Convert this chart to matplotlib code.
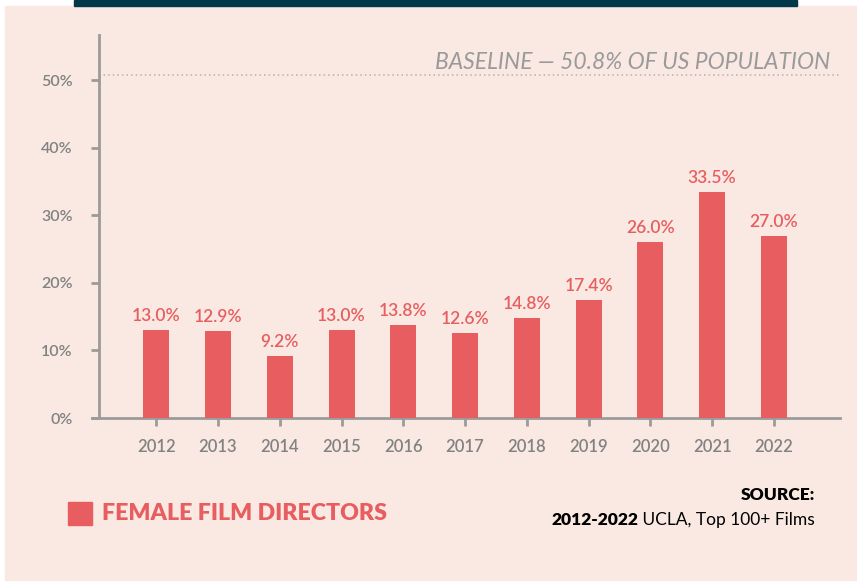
import matplotlib.pyplot as plt
from matplotlib.patches import Rectangle

# data
years = ["2012", "2013", "2014", "2015", "2016", "2017", "2018", "2019", "2020", "2021", "2022"]
pct = [13.0, 12.9, 9.2, 13.0, 13.8, 12.6, 14.8, 17.4, 26.0, 33.5, 27.0]
y_ticks = [0, 10, 20, 30, 40, 50]
baseline = 50.8

BG = "#f9e9e2"
RED = "#e85e60"
GREY = "#828282"
AXIS = "#9b9b9b"

plt.rcParams['font.family'] = ['Lato', 'DejaVu Sans']

W, H = 857, 582
fig = plt.figure(figsize=(W / 100, H / 100), dpi=100)
fig.patch.set_facecolor("white")

# pink panel + dark top bar
fig.patches.append(Rectangle((5 / W, 1 - 580 / H), 851 / W, 574 / H,
                             transform=fig.transFigure, color=BG, zorder=-10))
fig.patches.append(Rectangle((74 / W, 1 - 6 / H), 723 / W, 6 / H,
                             transform=fig.transFigure, color="#03384b", zorder=-10))

ax = fig.add_axes([92 / W, 1 - 418 / H, (840 - 92) / W, (418 - 35) / H])
ax.set_zorder(5)
ax.set_facecolor("none")

x = list(range(len(years)))
ax.bar(x, pct, width=0.42, color=RED, zorder=3)
for xi, v in zip(x, pct):
    ax.text(xi, v + 0.9, f"{v:.1f}%", ha='center', va='bottom',
            color=RED, fontsize=12.5, fontweight='semibold')

ax.set_xlim(-1.04, 11.07)
ax.set_ylim(0, 56.7)

for s in ['top', 'right']:
    ax.spines[s].set_visible(False)
ax.spines['left'].set_position(('data', -0.924))
ax.spines['left'].set_color(AXIS)
ax.spines['bottom'].set_color(AXIS)
ax.spines['left'].set_linewidth(2)
ax.spines['bottom'].set_linewidth(2)

ax.set_xticks(x)
ax.set_xticklabels(years, fontweight='semibold')
ax.set_yticks(y_ticks)
ax.set_yticklabels([f"{t}%" for t in y_ticks], fontweight='semibold')
ax.tick_params(axis='x', colors=AXIS, labelcolor=GREY, length=6, width=2,
               labelsize=12, pad=9)
ax.tick_params(axis='y', colors=AXIS, labelcolor=GREY, length=6, width=2,
               labelsize=11.5, pad=13)

# baseline
ax.plot([-0.924, 11.07], [baseline, baseline], color="#b5b0ad", lw=1.1,
        linestyle=(0, (1, 2)), zorder=2, clip_on=False)
ax.text(10.91, 52.7, "BASELINE \u2014 50.8% OF US POPULATION", ha='right',
        va='center', color="#9a9a9a", fontsize=16.5, style='italic',
        fontweight='normal')

# legend
fig.patches.append(Rectangle((68 / W, 1 - 525 / H), 24 / W, 23 / H,
                             transform=fig.transFigure, color=RED, zorder=2))
fig.text(102 / W, 1 - 513 / H, "FEMALE FILM DIRECTORS", color=RED,
         fontsize=16.7, fontweight='heavy', va='center', ha='left')

# source
fig.text(815 / W, 1 - 495 / H, "SOURCE:", fontsize=12.5, fontweight='heavy',
         ha='right', va='center', color="black")
t = fig.text(815 / W, 1 - 520 / H, " UCLA, Top 100+ Films", fontsize=12.5,
             ha='right', va='center', color="black")
fig.canvas.draw()
bb = t.get_window_extent()
fig.text(bb.x0 / W, 1 - 520 / H, "2012-2022", fontsize=12.5, fontweight='heavy',
         ha='right', va='center', color="black")

fig.savefig("out.png", dpi=100, facecolor=fig.get_facecolor())
